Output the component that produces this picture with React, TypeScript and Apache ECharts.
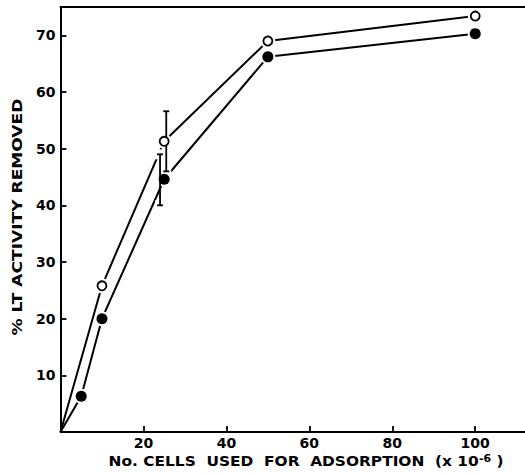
import React, { useEffect, useRef } from "react";
import * as echarts from "echarts";

const xTickValues = [20, 40, 60, 80, 100];
const yTickValues = [10, 20, 30, 40, 50, 60, 70];

const openX = [0, 10, 25, 50, 100];
const openY = [0, 25.8, 51.3, 69.0, 73.4];

const filledX = [0, 5, 10, 25, 50, 100];
const filledY = [0, 6.3, 20, 44.6, 66.2, 70.3];

const errX = [25.5, 24];
const errLow = [46, 40];
const errHigh = [56.6, 49];

const FONT = "DejaVu Sans";

export default function App() {
  const ref = useRef<HTMLDivElement>(null);
  useEffect(() => {
    if (!ref.current) return;
    const chart = echarts.init(ref.current, undefined, { renderer: "svg" });
    const openData = openX.map((x, i) => [x, openY[i]]);
    const filledData = filledX.map((x, i) => [x, filledY[i]]);
    const openMarks = openData.slice(1);
    const filledMarks = filledData.slice(1);
    const errData = errX.map((x, i) => [x, errLow[i], errHigh[i]]);

    const axisLine = { show: true, lineStyle: { color: "#000", width: 2 } };
    const labelStyle = { color: "#000", fontFamily: FONT, fontWeight: "bold" as const, fontSize: 14 };

    chart.setOption({
      animation: false,
      grid: { left: 60.5, right: 0, top: 7, bottom: 43, containLabel: false },
      xAxis: [
        {
          type: "value",
          min: 0,
          max: 112,
          interval: 20,
          axisLine,
          splitLine: { show: false },
          axisTick: { show: true, inside: true, length: 6, customValues: xTickValues, lineStyle: { color: "#000", width: 1.8 } },
          axisLabel: { ...labelStyle, margin: 4, customValues: xTickValues },
        },
        {
          type: "value",
          position: "top",
          min: 0,
          max: 112,
          axisLine,
          axisTick: { show: false },
          axisLabel: { show: false },
          splitLine: { show: false },
        },
      ],
      yAxis: {
        type: "value",
        min: 0,
        max: 75,
        interval: 10,
        axisLine,
        splitLine: { show: false },
        axisTick: { show: true, inside: true, length: 6, customValues: yTickValues, lineStyle: { color: "#000", width: 1.8 } },
        axisLabel: { ...labelStyle, margin: 5, customValues: yTickValues },
      },
      graphic: [
        {
          type: "text",
          x: 306,
          y: 461,
          scaleX: 1.1,
          style: {
            text: "{a|No. CELLS  USED  FOR  ADSORPTION  (x 10}{s|-6}{a| )}",
            align: "center",
            verticalAlign: "middle",
            rich: {
              a: { ...labelStyle, fontSize: 14 },
              s: { ...labelStyle, fontSize: 10, verticalAlign: "top", padding: [0, 0, 6, 0] },
            },
          },
        },
        {
          type: "text",
          x: 18,
          y: 217,
          rotation: Math.PI / 2,
          scaleX: 1.22,
          style: {
            text: "% LT ACTIVITY REMOVED",
            align: "center",
            verticalAlign: "middle",
            fill: "#000",
            font: `bold 14px "${FONT}"`,
          },
        },
      ],
      series: [
        {
          type: "line",
          data: openData,
          showSymbol: false,
          lineStyle: { color: "#000", width: 2 },
          z: 1,
          silent: true,
        },
        {
          type: "line",
          data: filledData,
          showSymbol: false,
          lineStyle: { color: "#000", width: 2 },
          z: 1,
          silent: true,
        },
        {
          type: "scatter",
          data: [...openMarks, ...filledMarks],
          symbolSize: 15,
          itemStyle: { color: "#fff", opacity: 1 },
          z: 2,
          silent: true,
        },
        {
          type: "custom",
          data: errData,
          z: 3,
          silent: true,
          renderItem: (params: any, api: any) => {
            const x = api.value(0);
            const lo = api.coord([x, api.value(1)]);
            const hi = api.coord([x, api.value(2)]);
            return {
              type: "group",
              children: [
                { type: "rect", shape: { x: lo[0] - 5, y: lo[1] - 5, width: 10, height: 10 }, style: { fill: "#fff" } },
                { type: "rect", shape: { x: hi[0] - 5, y: hi[1] - 5, width: 10, height: 10 }, style: { fill: "#fff" } },
              ],
            };
          },
        },
        {
          type: "custom",
          data: errData,
          z: 4,
          silent: true,
          renderItem: (params: any, api: any) => {
            const x = api.value(0);
            const lo = api.coord([x, api.value(1)]);
            const hi = api.coord([x, api.value(2)]);
            const st = { stroke: "#000", lineWidth: 1.8 };
            return {
              type: "group",
              children: [
                { type: "line", shape: { x1: lo[0], y1: lo[1], x2: hi[0], y2: hi[1] }, style: st },
                { type: "line", shape: { x1: lo[0] - 3, y1: lo[1], x2: lo[0] + 3, y2: lo[1] }, style: st },
                { type: "line", shape: { x1: hi[0] - 3, y1: hi[1], x2: hi[0] + 3, y2: hi[1] }, style: st },
              ],
            };
          },
        },
        {
          type: "scatter",
          data: openMarks,
          symbol: "circle",
          symbolSize: 9,
          itemStyle: { color: "#fff", borderColor: "#000", borderWidth: 1.8, opacity: 1 },
          z: 5,
          silent: true,
        },
        {
          type: "scatter",
          data: filledMarks,
          symbol: "circle",
          symbolSize: 11,
          itemStyle: { color: "#000", opacity: 1 },
          z: 5,
          silent: true,
        },
      ],
    });
    return () => chart.dispose();
  }, []);
  return <div ref={ref} style={{ width: 525, height: 475, position: "absolute", left: 0, top: 0, background: "#fff" }} />;
}
